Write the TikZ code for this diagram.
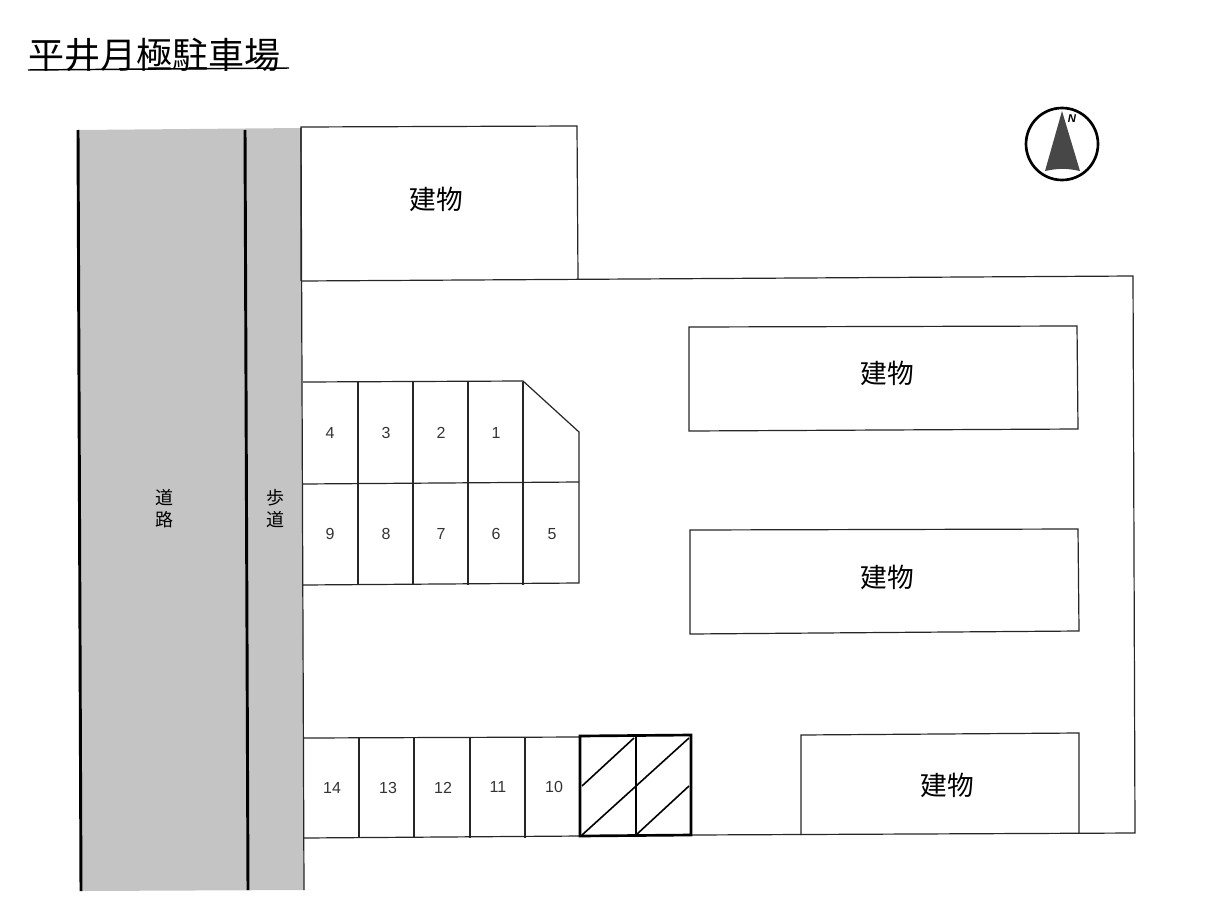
\documentclass[tikz,border=0pt]{standalone}
\usepackage{fontspec}
\setmainfont{Liberation Sans}
\newfontfamily\cjk{Noto Sans CJK JP}
\tikzset{
    outline/.style={draw=black!85, line width=0.9pt},
    bldlabel/.style={font=\cjk\fontsize{20}{20}\selectfont, inner sep=0pt},
    slotlabel/.style={font=\fontsize{12}{12}\selectfont, text=black!80, inner sep=0pt},
    roadlabel/.style={font=\cjk\fontsize{13.5}{16.5}\selectfont, align=center, inner sep=0pt}
}
\begin{document}
\begin{tikzpicture}[x=0.75pt,y=-0.75pt]
\useasboundingbox (0,0) rectangle (1209,899);
\node[font=\cjk\fontsize{27}{27}\selectfont, inner sep=0pt] (title) at (154,55) {平井月極駐車場};
\draw[line width=1.1pt] (28,70) -- (289,68);
\fill[black!23] (79,130) -- (301,128) -- (304,890) -- (81,891) -- cycle;
\draw[line width=2.2pt] (78,130) -- (81,891);
\draw[line width=2.2pt] (245,130) -- (248,890);
\draw[outline] (301,281) -- (301,127) -- (577,126) -- (578,279);
\draw[outline] (301,281) -- (1133,276) -- (1135,833) -- (692,835);
\draw[outline] (301,128) -- (304,890);
\draw[outline] (689,327) -- (1077,326) -- (1078,429) -- (689,431) -- cycle;
\draw[outline] (690,530) -- (1078,529) -- (1079,631) -- (690,634) -- cycle;
\draw[outline] (801,835) -- (801,735) -- (1079,733) -- (1079,833);
\draw[outline] (303,382) -- (523,381) -- (579,432) -- (579,583) -- (303,585);
\draw[outline] (303,484) -- (579,482);
\foreach \x in {358,413,468,523}{
    \draw[outline] (\x,382) -- (\x,585);
}
\draw[outline] (304,738) -- (581,737);
\draw[outline] (304,838) -- (581,836);
\foreach \x in {359,414,470,525}{
    \draw[outline] (\x,738) -- (\x,838);
}
\draw[line width=2pt] (580,736) -- (691,735) -- (691,835) -- (580,836) -- cycle;
\draw[line width=1.2pt] (636,735) -- (636,835);
\draw[line width=1.2pt] (582,786) -- (634,738);
\draw[line width=1.2pt] (582,835) -- (689,738);
\draw[line width=1.2pt] (636,835) -- (689,786);
\foreach \x/\y/\p/\labeltext in {436/199/blda/建物, 887/373/bldb/建物, 887/577/bldc/建物, 947/785/bldd/建物}{
    \node[bldlabel] (\p) at (\x,\y) {\labeltext};
}
\foreach \x/\y/\p in {496/433/1, 441/433/2, 386/433/3, 330/433/4, 552/534/5, 496/534/6, 441/534/7, 386/534/8, 330/534/9, 554/787/10, 498/787/11, 443/788/12, 388/788/13, 332/788/14}{
    \node[slotlabel] (slot\p) at (\x,\y) {\p};
}
\node[roadlabel] (road) at (164,509) {道\\路};
\node[roadlabel] (walk) at (275,509) {歩\\道};
\draw[line width=2pt] (1062,144) circle (36);
\fill[black!72] (1062,111) -- (1080,171) to[bend right=12] (1045,171) -- cycle;
\node[font=\itshape\bfseries\fontsize{8.5}{8.5}\selectfont, inner sep=0pt] (north) at (1072,119) {N};
\end{tikzpicture}
\end{document}
